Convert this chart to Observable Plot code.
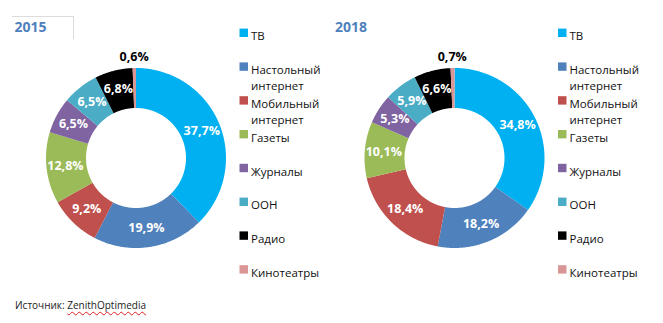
<!DOCTYPE html>
<html>
<head>
<meta charset="utf-8">
<script src="https://cdn.jsdelivr.net/npm/d3@7"></script>
<script src="https://cdn.jsdelivr.net/npm/@observablehq/plot@0.6"></script>
<style>
  html, body { margin: 0; padding: 0; background: #fff; }
  #wrap { position: relative; width: 663px; height: 323px; overflow: hidden; }
  .frame { position: absolute; border-top: 1px solid #dcdcdc; border-right: 1px solid #dcdcdc; }
  #source { position: absolute; left: 15px; top: 298px; font-family: "Open Sans", sans-serif; font-size: 10px; color: #222; white-space: nowrap; }
  #source span { text-decoration: underline wavy #e02020; text-decoration-thickness: 1px; text-underline-offset: 2px; }
</style>
</head>
<body>
<div id="wrap">
  <div class="frame" style="left:12px; top:16px; width:61px; height:22px;"></div>
  <div id="source">Источник: <span>ZenithOptimedia</span></div>
</div>
<script>
// ---- data ----
const categories = ["ТВ", "Настольный интернет", "Мобильный интернет", "Газеты", "Журналы", "ООН", "Радио", "Кинотеатры"];
const legendLabels = ["ТВ", "Настольный\nинтернет", "Мобильный\nинтернет", "Газеты", "Журналы", "ООН", "Радио", "Кинотеатры"];
const colors = ["#00b0f0", "#4f81bd", "#c0504d", "#9bbb59", "#8064a2", "#4bacc6", "#000000", "#d99694"];
const years = ["2015", "2018"];
const values2015 = [37.7, 19.9, 9.2, 12.8, 6.5, 6.5, 6.8, 0.6];
const values2018 = [34.8, 18.2, 18.4, 10.1, 5.3, 5.9, 6.6, 0.7];

// ---- layout ----
const W = 663, H = 323;
const panelDx = [0, 318.5];
const cx = 135.5, cy = 157.5, R = 90, R0 = 50, labelR = 71, outsideR = 101;
const legendX = 239.5, legendY0 = 32.8, legendStep = 33.8;
const titleX = 14, titleY = 27;

const valuesByYear = [values2015, values2018];
const fmt = v => v.toFixed(1).replace(".", ",") + "%";

const ringPts = [], labels = [], legendRows = [], titles = [];
years.forEach((yr, p) => {
  const vals = valuesByYear[p];
  const ox = cx + panelDx[p];
  let cum = 0;
  vals.forEach((v, i) => {
    const a0 = cum / 100 * 2 * Math.PI;
    const a1 = (cum + v) / 100 * 2 * Math.PI;
    cum += v;
    const key = yr + "-" + i;
    const n = Math.max(2, Math.ceil((a1 - a0) / (Math.PI / 360)));
    for (let k = 0; k <= n; k++) {
      const a = a0 + (a1 - a0) * k / n;
      ringPts.push({key, cat: categories[i], x: ox + R * Math.sin(a), y: cy - R * Math.cos(a)});
    }
    for (let k = n; k >= 0; k--) {
      const a = a0 + (a1 - a0) * k / n;
      ringPts.push({key, cat: categories[i], x: ox + R0 * Math.sin(a), y: cy - R0 * Math.cos(a)});
    }
    const am = (a0 + a1) / 2;
    const small = v < 2;
    const r = small ? outsideR : labelR;
    labels.push({x: ox + r * Math.sin(am), y: cy - r * Math.cos(am), text: fmt(v), color: small ? "#000" : "#fff"});
  });
  categories.forEach((c, i) => {
    legendRows.push({cat: c, label: legendLabels[i], x: legendX + panelDx[p], y: legendY0 + legendStep * i});
  });
  titles.push({x: titleX + panelDx[p] + (p ? 2 : 0), y: titleY, text: yr});
});

const chart = Plot.plot({
  width: W, height: H,
  margin: 0,
  x: {domain: [0, W], range: [0, W], axis: null},
  y: {domain: [0, H], range: [0, H], axis: null},
  color: {domain: categories, range: colors},
  style: {fontFamily: "'Open Sans', sans-serif", background: "transparent", overflow: "visible"},
  marks: [
    Plot.line(ringPts, {x: "x", y: "y", z: "key", fill: "cat", stroke: null, curve: "linear"}),
    Plot.text(labels, {x: "x", y: "y", text: "text", fill: d => d.color, fontWeight: "bold", fontSize: 12.5}),
    Plot.rect(legendRows, {x1: d => d.x, x2: d => d.x + 8.5, y1: d => d.y - 4.2, y2: d => d.y + 4.2, fill: "cat"}),
    Plot.text(legendRows, {x: d => d.x + 11, y: d => d.y - 4.4, text: "label", textAnchor: "start", lineAnchor: "top", lineHeight: 1.4, fontSize: 11.5, fill: "#111"}),
    Plot.text(titles, {x: "x", y: "y", text: "text", textAnchor: "start", fontWeight: "bold", fontSize: 14, fill: "#4f81bd"})
  ]
});
chart.style.position = "absolute";
chart.style.left = "0px";
chart.style.top = "0px";
document.getElementById("wrap").prepend(chart);
</script>
</body>
</html>
